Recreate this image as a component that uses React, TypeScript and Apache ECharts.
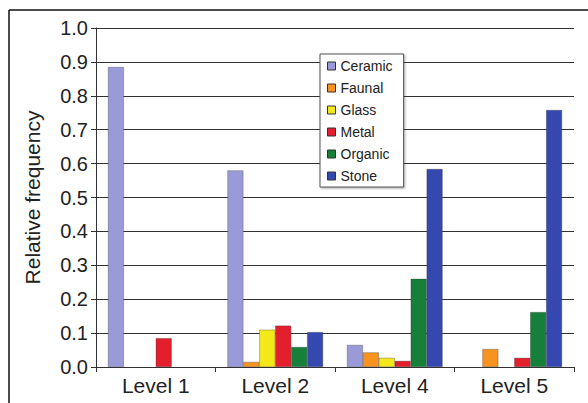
import React, { useEffect, useRef } from "react";
import * as echarts from "echarts";

const categories = ["Level 1", "Level 2", "Level 4", "Level 5"];
const seriesNames = ["Ceramic", "Faunal", "Glass", "Metal", "Organic", "Stone"];
const ceramic = [0.885, 0.58, 0.065, 0];
const faunal = [0, 0.015, 0.043, 0.053];
const glass = [0, 0.11, 0.027, 0];
const metal = [0.085, 0.122, 0.018, 0.027];
const organic = [0, 0.059, 0.26, 0.162];
const stone = [0, 0.103, 0.584, 0.758];
const seriesValues = [ceramic, faunal, glass, metal, organic, stone];
const colors = ["#9a9ad8", "#f7931e", "#f5e81a", "#e31e2d", "#16803a", "#3448b0"];

export default function App() {
  const ref = useRef<HTMLDivElement>(null);
  useEffect(() => {
    if (!ref.current) return;
    const chart = echarts.init(ref.current, null, { renderer: "svg" });
    const font = "Liberation Sans, Arial, sans-serif";
    chart.setOption({
      animation: false,
      backgroundColor: "#fff",
      textStyle: { fontFamily: font },
      grid: { left: 96, right: 14, top: 28, bottom: 36 },
      legend: {
        orient: "vertical",
        left: 320,
        top: 54,
        itemWidth: 8,
        itemHeight: 8,
        itemGap: 8,
        padding: [5, 11, 4, 7],
        backgroundColor: "#fff",
        borderColor: "#555",
        borderWidth: 1,
        shadowColor: "rgba(0,0,0,0.35)",
        shadowBlur: 2,
        shadowOffsetX: 1,
        shadowOffsetY: 1,
        textStyle: { fontSize: 14, color: "#222", fontFamily: font },
        itemStyle: { borderColor: "#333", borderWidth: 1 },
        data: seriesNames.map((n) => ({ name: n, icon: "rect" })),
      },
      xAxis: {
        type: "category",
        data: categories,
        axisLine: { show: true, lineStyle: { color: "#333", width: 1 } },
        axisTick: { show: true, alignWithLabel: false, length: 5, lineStyle: { color: "#333" } },
        axisLabel: { fontSize: 21, color: "#222", margin: 8, fontFamily: font },
      },
      yAxis: {
        type: "value",
        min: 0,
        max: 1,
        interval: 0.1,
        name: "Relative frequency",
        nameLocation: "middle",
        nameGap: 53,
        nameTextStyle: { fontSize: 21, color: "#222", fontFamily: font },
        axisLine: { show: true, lineStyle: { color: "#333", width: 1 } },
        axisTick: { show: true, length: 5, lineStyle: { color: "#333" } },
        axisLabel: {
          fontSize: 20,
          color: "#222",
          margin: 8,
          fontFamily: font,
          formatter: (v: number) => v.toFixed(1),
        },
        splitLine: { show: true, lineStyle: { color: "#333", width: 1 } },
      },
      series: seriesNames.map((name, i) => ({
        name,
        type: "bar",
        data: seriesValues[i].map((v) =>
          v === 0 ? { value: v, itemStyle: { borderWidth: 0, opacity: 0 } } : v
        ),
        barGap: "0%",
        barCategoryGap: "20%",
        itemStyle: { color: colors[i], borderColor: "rgba(40,40,40,0.6)", borderWidth: 0.5 },
      })),
      graphic: [
        { type: "line", shape: { x1: 9, y1: 10, x2: 588, y2: 10 }, style: { stroke: "#111", lineWidth: 1.5 } },
        { type: "line", shape: { x1: 9, y1: 10, x2: 9, y2: 403 }, style: { stroke: "#111", lineWidth: 1.5 } },
      ],
    });
    return () => chart.dispose();
  }, []);
  return (
    <div
      ref={ref}
      style={{ position: "fixed", left: 0, top: 0, width: 588, height: 403 }}
    />
  );
}
